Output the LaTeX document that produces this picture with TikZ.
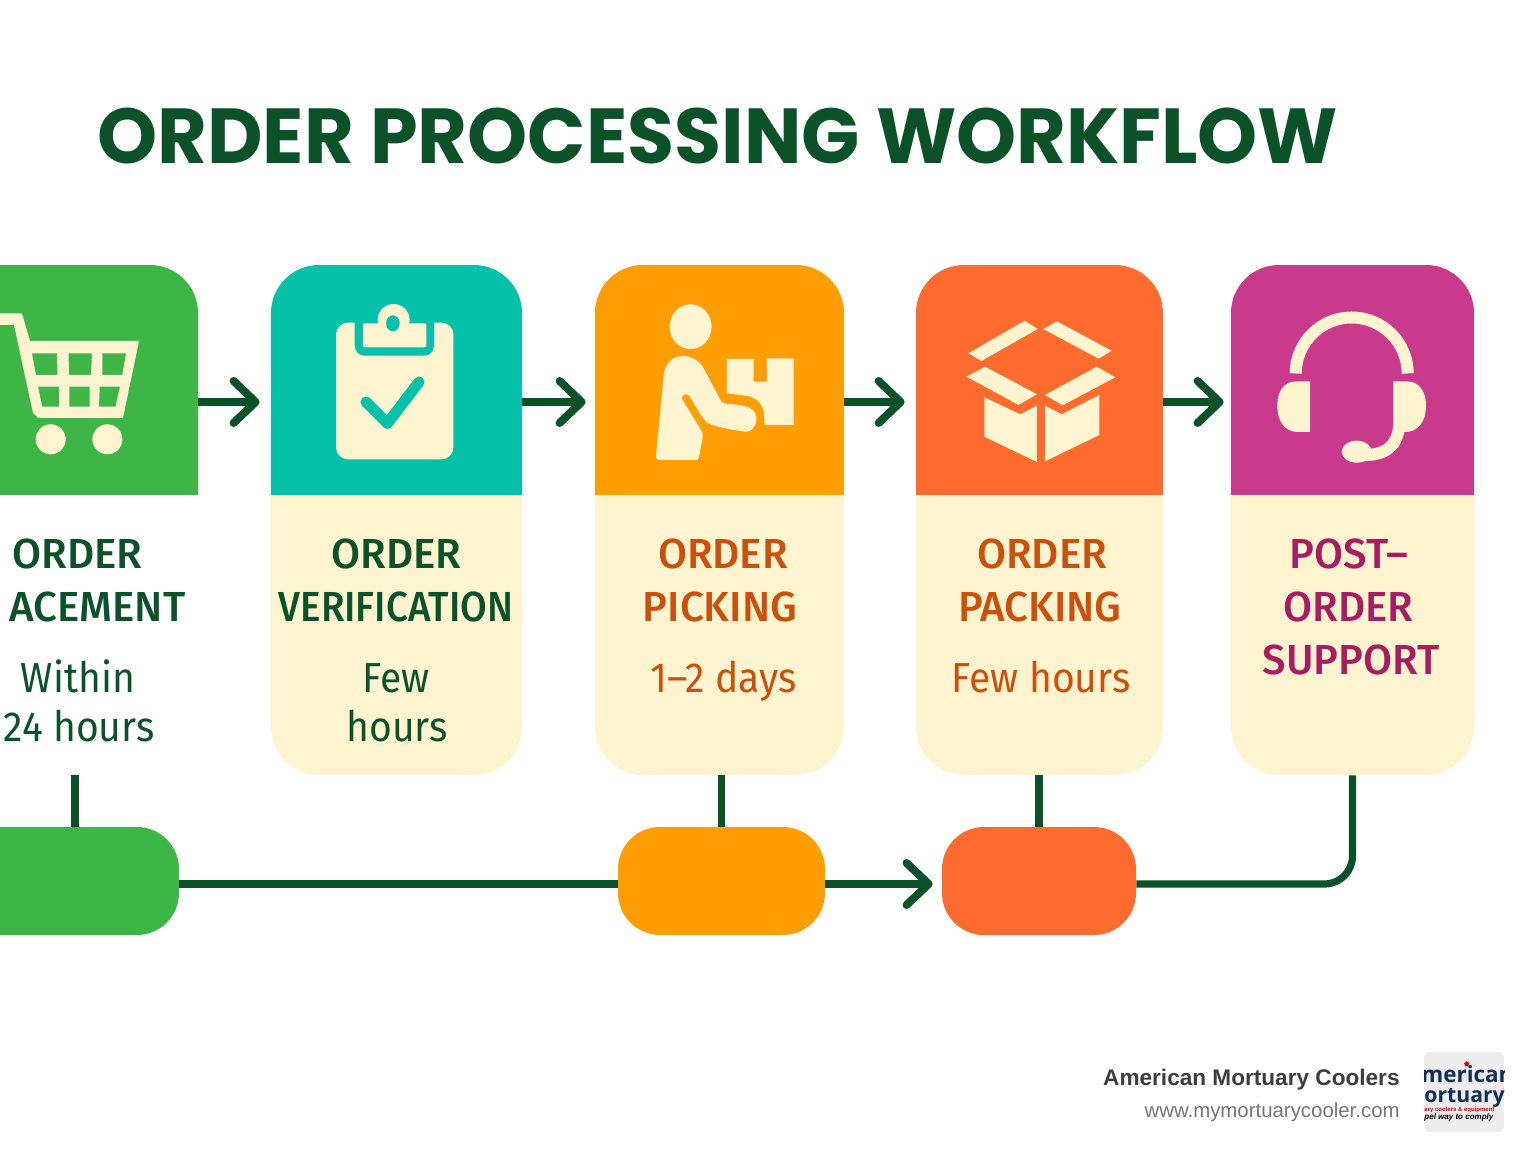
\documentclass[tikz,border=0pt]{standalone}
\usepackage{fontspec}
\usepackage{graphicx}
\usetikzlibrary{arrows.meta,shapes.geometric}
\setmainfont{Liberation Sans}
\newfontfamily\titlefont{Poppins}[BoldFont=* Bold, FakeStretch=0.98]
\newfontfamily\labelfont{Fira Sans}[FakeStretch=0.93]
\newfontfamily\stepfont{Fira Sans Medium}
\newfontfamily\logofont{Open Sans}
\definecolor{grasscol}{HTML}{3DB547}
\definecolor{tealcol}{HTML}{05C1AA}
\definecolor{ambercol}{HTML}{FF9D05}
\definecolor{flamecol}{HTML}{FD6B2E}
\definecolor{plumcol}{HTML}{C93A8C}
\definecolor{creamcol}{HTML}{FEF4CF}
\definecolor{pinecol}{HTML}{0B5229}
\definecolor{rustcol}{HTML}{CB500C}
\definecolor{winecol}{HTML}{A81D62}
\definecolor{navycol}{HTML}{102F55}
\tikzset{
  card/.style 2 args={rectangle, rounded corners=24pt, minimum width=#1, minimum height=255pt,
    inner sep=0pt, fill=creamcol,
    path picture={\fill[sharp corners, #2] (path picture bounding box.north west) rectangle
      ([yshift=-115pt]path picture bounding box.north east);}},
  pill/.style={rectangle, rounded corners=21pt, minimum height=54pt, inner sep=0pt},
  flowline/.style={draw=pinecol, line width=3.6pt},
  lowline/.style={draw=pinecol, line width=4.1pt},
  flowarrow/.style={flowline, -{Straight Barb[length=11pt,width=21pt,line width=4pt,round]}},
  icon/.style={fill=creamcol, even odd rule},
  heading/.style={anchor=base west, inner sep=0pt, text=pinecol,
    font=\titlefont\bfseries\fontsize{39}{39}\selectfont},
  steptitle/.style={anchor=base, inner sep=0pt, font=\stepfont\fontsize{21}{21}\selectfont},
  stepnote/.style={anchor=base, inner sep=0pt, font=\labelfont\fontsize{21}{21}\selectfont},
}
\begin{document}
\begin{tikzpicture}[x=0.5pt,y=-0.5pt]
  \useasboundingbox (0,0) rectangle (1536,1154);
  \clip (0,0) rectangle (1536,1154);

  % Marking heights of the two flows
  \coordinate (flowtop) at (0,402);
  \coordinate (flowlow) at (0,884);

  % Drawing title
  \node[heading] (title) at (97,164) {ORDER PROCESSING WORKFLOW};

  % Drawing cards
  \node[card={123pt}{grasscol}, fill=white] (cardplacing) at (75,520) {};
  \node[card={125.5pt}{tealcol}] (cardverification) at (396.5,520) {};
  \node[card={124.5pt}{ambercol}] (cardpicking) at (719.5,520) {};
  \node[card={123.5pt}{flamecol}] (cardpacking) at (1039.5,520) {};
  \node[card={121.5pt}{plumcol}] (cardsupport) at (1352.5,520) {};

  % Drawing pills
  \node[pill, fill=grasscol, minimum width=119.5pt] (pillplacing) at (59.5,881) {};
  \node[pill, fill=ambercol, minimum width=103.5pt] (pillpicking) at (721.5,881) {};
  \node[pill, fill=flamecol, minimum width=97pt] (pillpacking) at (1039,881) {};

  % Drawing arrows between cards
  \draw[flowarrow, shorten >=5.5pt] (cardplacing.east |- flowtop) -- (cardverification.west |- flowtop);
  \draw[flowarrow, shorten >=4.5pt] (cardverification.east |- flowtop) -- (cardpicking.west |- flowtop);
  \draw[flowarrow, shorten >=5.5pt] (cardpicking.east |- flowtop) -- (cardpacking.west |- flowtop);
  \draw[flowarrow, shorten >=3.5pt] (cardpacking.east |- flowtop) -- (cardsupport.west |- flowtop);

  % Drawing lines from cards to pills
  \draw[flowline] (cardplacing.south) -- (cardplacing.south |- pillplacing.north);
  \draw[flowline] (pillpicking.north |- cardpicking.south) -- (pillpicking.north);
  \draw[flowline] (pillpacking.north |- cardpacking.south) -- (pillpacking.north);

  % Drawing lower flow
  \draw[lowline] (pillplacing.east |- flowlow) -- (pillpicking.west |- flowlow);
  \draw[lowline, -{Straight Barb[length=11pt,width=21pt,line width=4pt,round]}, shorten >=4.5pt] (pillpicking.east |- flowlow) -- (pillpacking.west |- flowlow);
  \draw[flowline, rounded corners=14pt] (cardsupport.south) |- (pillpacking.east |- flowlow);

  % Drawing cart
  \fill[icon] (-10,313.5) -- (22,313.5) -- (30,341) -- (139,341) -- (123,418) -- (38,418) -- (33,413) -- (14,325) -- (-10,325) -- cycle
    (32,353.5) -- (57,353.5) -- (57.5,375) -- (36,375) -- cycle
    (68.6,353.5) -- (92,353.5) -- (91,375) -- (69,375) -- cycle
    (102.4,353.5) -- (126,353.5) -- (122.3,375) -- (102.4,375) -- cycle
    (38,386.7) -- (59,386.7) -- (59,406.7) -- (42.2,406.7) -- cycle
    (69.3,386.7) -- (89.5,386.7) -- (89.5,406.7) -- (69.3,406.7) -- cycle
    (99.7,386.7) -- (120,386.7) -- (115.5,406.7) -- (99,406.7) -- cycle;
  \fill[icon] (50.7,439.3) circle[radius=7.5pt];
  \fill[icon] (107.4,439.3) circle[radius=7.5pt];

  % Drawing clipboard
  \fill[icon, rounded corners=6pt] (336,322.7) rectangle (453.4,459.3);
  \fill[tealcol, rounded corners=5pt] (354.7,310) rectangle (434,355.7);
  \fill[icon, rounded corners=1pt] (363,323.3) rectangle (426.4,347.3);
  \fill[icon] (393.6,320) circle[radius=8pt];
  \fill[tealcol] (392.9,323.3) ellipse[x radius=3.4pt, y radius=4pt];
  \draw[tealcol, line width=5.5pt, line cap=round, line join=round] (366,402) -- (387.5,423.3) -- (419,382);

  % Drawing person with parcel
  \fill[icon] (690.6,326.7) ellipse[x radius=10.5pt, y radius=11.2pt];
  \fill[icon] (655.9,456.7) -- (664,373.3) .. controls (666,362) and (674,356) .. (682.5,356)
    .. controls (691,356) and (698,360) .. (702.8,366.7) -- (721.3,401.7)
    .. controls (724,404) and (727,404) .. (730.6,404) .. controls (740,405) and (748,406) .. (752.8,410)
    .. controls (757,414) and (757,418) .. (755.7,423.3) .. controls (754,429) and (750,432) .. (745.4,431.7)
    .. controls (735,430) and (718,428) .. (708.4,423.3) .. controls (703,420) and (696,407) .. (689.9,396.7)
    .. controls (688,393) and (683,393) .. (681.7,398.3) -- (701,430) .. controls (703,433) and (703,435) .. (702.8,437)
    -- (699,457) .. controls (698,460) and (697,460) .. (695,460) -- (660,460) .. controls (657,460) and (656,459) .. (655.9,456.7) -- cycle;
  \fill[icon] (726.9,359) -- (753.5,359) -- (753.5,381.7) -- (766.8,381.7) -- (766.8,358.3) -- (793.5,358.3) -- (793.5,425) -- (764.6,425)
    -- (763.9,412) .. controls (762,403) and (756,398) .. (748,396) -- (726.9,393.3) -- cycle;

  % Drawing open box
  \fill[icon] (1024.7,320.7) -- (1037.7,329) -- (981.4,361) -- (968.5,353.3) -- cycle;
  \fill[icon] (1056.9,321.3) -- (1111.6,350.7) -- (1098.7,358.7) -- (1043.2,329) -- cycle;
  \fill[icon] (985.1,366.7) -- (1036.9,394.3) -- (1018.4,405) -- (966.6,376.7) -- cycle;
  \fill[icon] (1096.8,366.7) -- (1115.3,377.3) -- (1062.8,405.3) -- (1045,395) -- cycle;
  \fill[icon] (984.4,397.3) -- (1020.3,414.3) -- (1036.9,405.7) -- (1036.9,462) -- (984.4,436.7) -- cycle;
  \fill[icon] (1045,405.7) -- (1061.7,414.3) -- (1099.4,395) -- (1099.4,435) -- (1045,461.3) -- cycle;

  % Drawing headset
  \draw[creamcol, line width=6pt] (1295.7,373.5) arc[start angle=180, end angle=0, radius=28pt];
  \fill[icon] (1310,381.5) -- (1295,381.5) .. controls (1284,381.5) and (1277.3,392) .. (1277.3,405)
    .. controls (1277.3,422) and (1285,432) .. (1298,432) -- (1310,432) -- cycle;
  \fill[icon] (1393.3,381.5) -- (1408,381.5) .. controls (1419,381.5) and (1426,392) .. (1426,405)
    .. controls (1426,422) and (1418,432) .. (1405,432) -- (1393.3,432) -- cycle;
  \draw[creamcol, line width=6pt] (1399,428) .. controls (1396,447) and (1385,456) .. (1360,455);
  \fill[icon] (1356.7,451.7) ellipse[x radius=7.5pt, y radius=5.5pt];

  % Drawing texts of placing card
  \node[steptitle, text=pinecol] (placingfirst) at (77.5,568) {ORDER};
  \node[steptitle, text=pinecol] (placingsecond) at (97.5,621) {ACEMENT};
  \node[stepnote, text=pinecol] (placingnote) at (78,692) {Within};
  \node[stepnote, text=pinecol] (placingtime) at (79,741) {24 hours};

  % Drawing texts of verification card
  \node[steptitle, text=pinecol] (verificationfirst) at (396.5,568) {ORDER};
  \node[steptitle, text=pinecol] (verificationsecond) at (396,621) {\scalebox{0.92}[1]{VERIFICATION}};
  \node[stepnote, text=pinecol] (verificationnote) at (396,692) {Few};
  \node[stepnote, text=pinecol] (verificationtime) at (397,741) {hours};

  % Drawing texts of picking card
  \node[steptitle, text=rustcol] (pickingfirst) at (723,568) {ORDER};
  \node[steptitle, text=rustcol] (pickingsecond) at (720,621) {PICKING};
  \node[stepnote, text=rustcol] (pickingnote) at (723.5,692) {1–2 days};

  % Drawing texts of packing card
  \node[steptitle, text=rustcol] (packingfirst) at (1042,568) {ORDER};
  \node[steptitle, text=rustcol] (packingsecond) at (1040,621) {PACKING};
  \node[stepnote, text=rustcol] (packingnote) at (1041,692) {Few hours};

  % Drawing texts of support card
  \node[steptitle, text=winecol] (supportfirst) at (1349,568) {POST–};
  \node[steptitle, text=winecol] (supportsecond) at (1348.5,621) {ORDER};
  \node[steptitle, text=winecol] (supportthird) at (1351,674) {SUPPORT};

  % Drawing company name
  \node[anchor=base east, inner sep=0pt, text=black!76, font=\bfseries\fontsize{11.3}{12}\selectfont] (company) at (1400,1085.7) {American Mortuary Coolers};
  \node[anchor=base east, inner sep=0pt, text=black!54, font=\fontsize{10.2}{12}\selectfont] (website) at (1400,1117) {www.mymortuarycooler.com};

  % Drawing logo
  \begin{scope}
    \clip[rounded corners=3pt] (1424,1052) rectangle (1504,1132);
    \fill[black!7] (1424,1052) rectangle (1504,1132);
    \node[anchor=base west, inner sep=0pt, text=navycol, font=\logofont\bfseries\fontsize{11.2}{12}\selectfont] (logofirst) at (1421,1082) {merican};
    \node[anchor=base west, inner sep=0pt, text=navycol, font=\logofont\bfseries\fontsize{10.6}{12}\selectfont] (logosecond) at (1424,1102) {ortuary};
    \node[anchor=base west, inner sep=0pt, text=red!80!black, font=\bfseries\fontsize{3}{4}\selectfont] (logothird) at (1424,1111.5) {ary coolers \& equipment};
    \node[anchor=base west, inner sep=0pt, text=black, font=\rmfamily\bfseries\itshape\fontsize{4}{5}\selectfont] (logofourth) at (1424,1119) {pel way to comply};
    \node[star, star points=5, fill=red!85!black, inner sep=0pt, minimum size=3pt] (logostar) at (1466.7,1064) {};
  \end{scope}
\end{tikzpicture}
\end{document}
